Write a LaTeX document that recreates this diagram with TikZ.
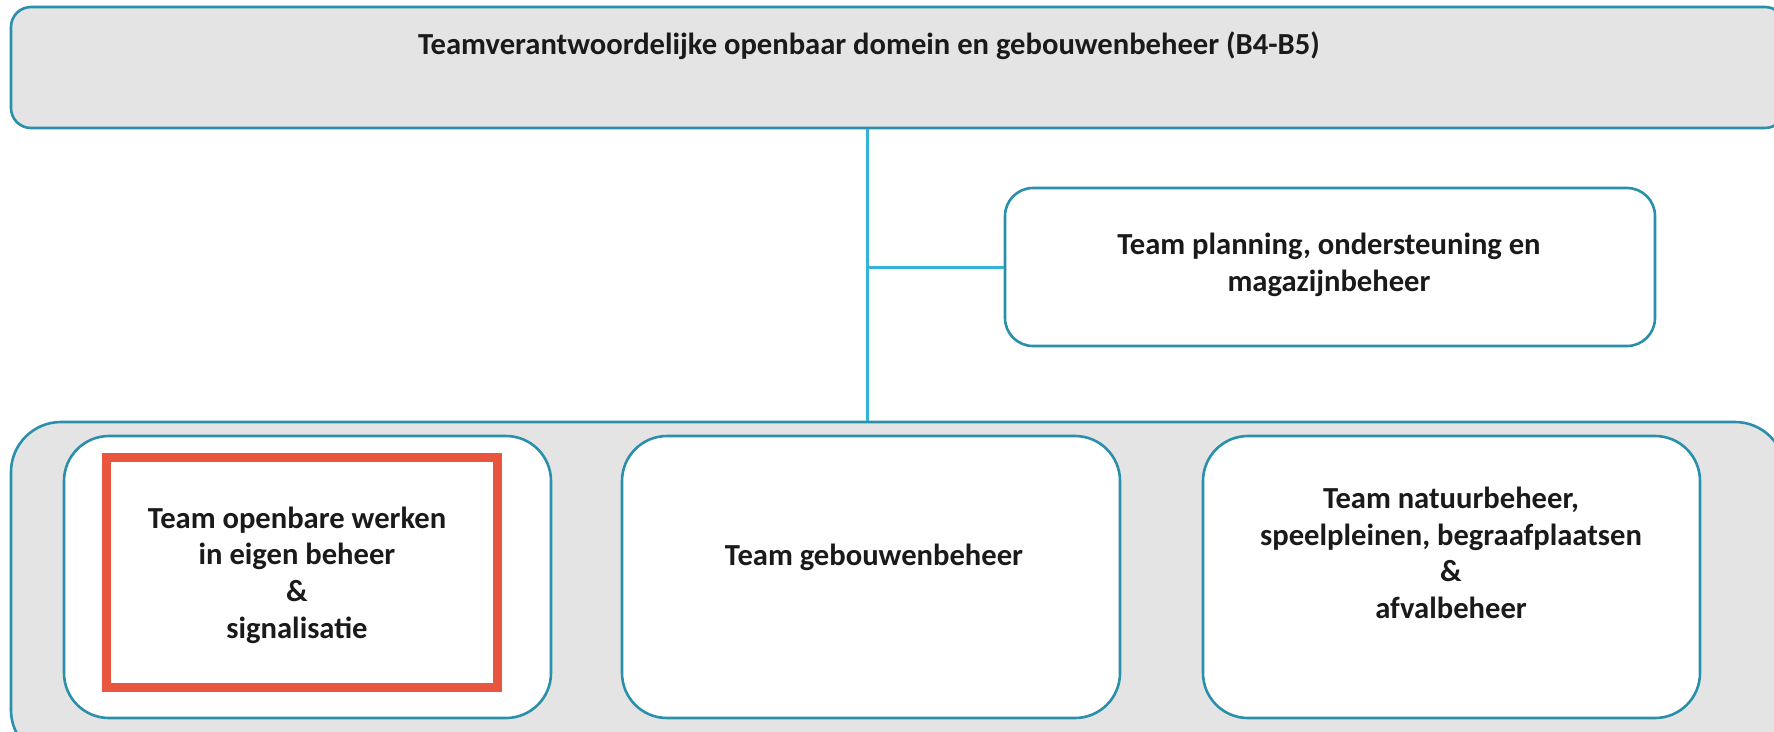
\documentclass[tikz,border=0pt]{standalone}
\usepackage{fontspec}
\setmainfont{Carlito}
\definecolor{edge}{HTML}{2A8FAA}
\definecolor{wire}{HTML}{35B3D6}
\definecolor{greyfill}{HTML}{E4E4E4}
\definecolor{hired}{HTML}{E85640}
\definecolor{ink}{HTML}{1A1A1A}
\begin{document}
\begin{tikzpicture}[x=1pt,y=-1pt,
  box/.style={draw=edge, line width=2.6pt, rectangle, inner sep=0pt},
  label/.style={text=ink, font=\fontsize{30.6}{36.6}\selectfont\bfseries, align=center, inner sep=0pt},
  wirestyle/.style={draw=wire, line width=3pt}]
\useasboundingbox (0,0) rectangle (1774,731);
\clip (0,0) rectangle (1774,731);
% top box
\node[box, fill=greyfill, rounded corners=20pt, minimum width=1774pt, minimum height=121pt] (top) at (898,67.5) {};
\node[label] (toptext) at (869,46) {Teamverantwoordelijke openbaar domein en gebouwenbeheer (B4-B5)};
% group container
\node[box, fill=greyfill, rounded corners=50pt, minimum width=1774pt, minimum height=338pt] (grp) at (898,591) {};
% planning box
\node[box, fill=white, rounded corners=28pt, minimum width=650pt, minimum height=158pt] (plan) at (1330,267) {};
\node[label] (plantext) at (1329,265) {Team planning, ondersteuning en\\magazijnbeheer};
% connectors
\coordinate (j) at (867,267);
\draw[wirestyle] (j |- top.south) -- (j |- grp.north);
\draw[wirestyle] (j) -- (plan.west);
% bottom boxes
\node[box, fill=white, rounded corners=45pt, minimum width=487pt, minimum height=282pt] (b1) at (307.5,577) {};
\node[draw=hired, line width=9pt, rectangle, minimum width=391pt, minimum height=230pt, inner sep=0pt] (hl) at (301.5,572) {};
\node[label] (b1text) at (297,575) {Team openbare werken\\in eigen beheer\\\&\\signalisatie};
\node[box, fill=white, rounded corners=45pt, minimum width=498pt, minimum height=282pt] (b2) at (871,577) {};
\node[label] (b2text) at (874,557) {Team gebouwenbeheer};
\node[box, fill=white, rounded corners=45pt, minimum width=497pt, minimum height=282pt] (b3) at (1451.5,577) {};
\node[label] (b3text) at (1451,553) {Team natuurbeheer,\\speelpleinen, begraafplaatsen\\\&\\afvalbeheer};
\end{tikzpicture}
\end{document}
